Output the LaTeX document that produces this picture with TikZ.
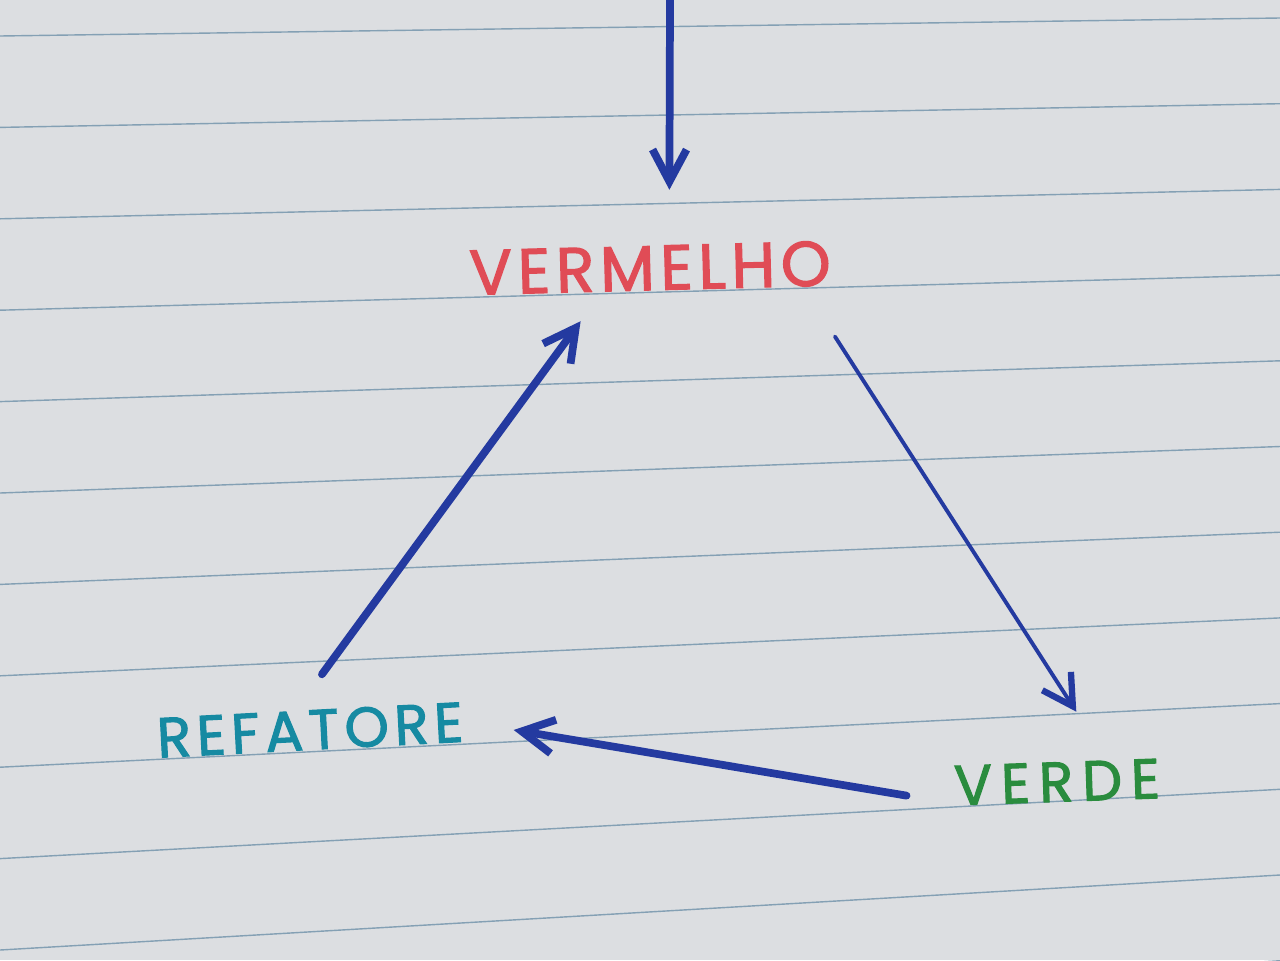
\documentclass[tikz,border=0pt]{standalone}
\usepackage{fontspec}
\setmainfont{Poppins}
\usetikzlibrary{arrows.meta}
\definecolor{paper}{RGB}{220,222,225}
\definecolor{ruling}{RGB}{132,160,180}
\definecolor{pen}{RGB}{36,58,160}
\definecolor{redink}{RGB}{224,76,86}
\definecolor{tealink}{RGB}{22,138,162}
\definecolor{greenink}{RGB}{42,140,62}
\tikzset{
  word/.style = {inner sep=0pt, font={\fontsize{16}{18}\selectfont\addfontfeatures{LetterSpace=#1,FakeBold=2}}},
  word/.default = 10,
  bigword/.style = {inner sep=0pt, font={\fontsize{18}{20}\selectfont\addfontfeatures{LetterSpace=9,FakeBold=2}}},
  line/.style = {draw=ruling, line width=0.4pt},
  thickpen/.style = {draw=pen, line width=2.2pt, line cap=round, -{Straight Barb[length=3.2mm,width=3.4mm,line width=2.2pt]}},
  thinpen/.style = {draw=pen, line width=1.1pt, line cap=round, -{Straight Barb[length=3mm,width=3.4mm,line width=1.8pt]}}
}

\begin{document}
\begin{tikzpicture}

  % Paper and rulings
  \fill[paper] (0,0) rectangle (12.8,9.6);
  \useasboundingbox (0,0) rectangle (12.8,9.6);
  \begin{scope}
    \clip (0,0) rectangle (12.8,9.6);
    \foreach \i in {0,...,11}
      \draw[line] (0,{9.6-0.36-0.914*\i}) -- (12.8,{9.6-0.18-0.857*\i});
  \end{scope}

  % Words
  \node (vermelho) [bigword, text=redink, rotate=1.5] at (6.5,6.92) {VERMELHO};
  \node (refatore) [word=10, text=tealink, rotate=3] at (3.1,2.3) {REFATORE};
  \node (verde) [word=16, text=greenink, rotate=2] at (10.57,1.78) {VERDE};

  % Entry arrow from the top
  \coordinate (entry) at (6.7,9.6);
  \draw[thickpen] (entry) -- ([xshift=2mm,yshift=5.5mm]vermelho.north);

  % Cycle
  \draw[thinpen] ([xshift=0.3mm,yshift=-5mm]vermelho.south east) -- ([xshift=2mm,yshift=5mm]verde.north);
  \draw[thickpen] ([xshift=-4.7mm,yshift=-1mm]verde.west) -- ([xshift=5mm,yshift=-0.8mm]refatore.east);
  \draw[thickpen] ([xshift=1.3mm,yshift=3.5mm]refatore.north) -- ([xshift=-7mm,yshift=-3mm]vermelho.south);

\end{tikzpicture}
\end{document}
